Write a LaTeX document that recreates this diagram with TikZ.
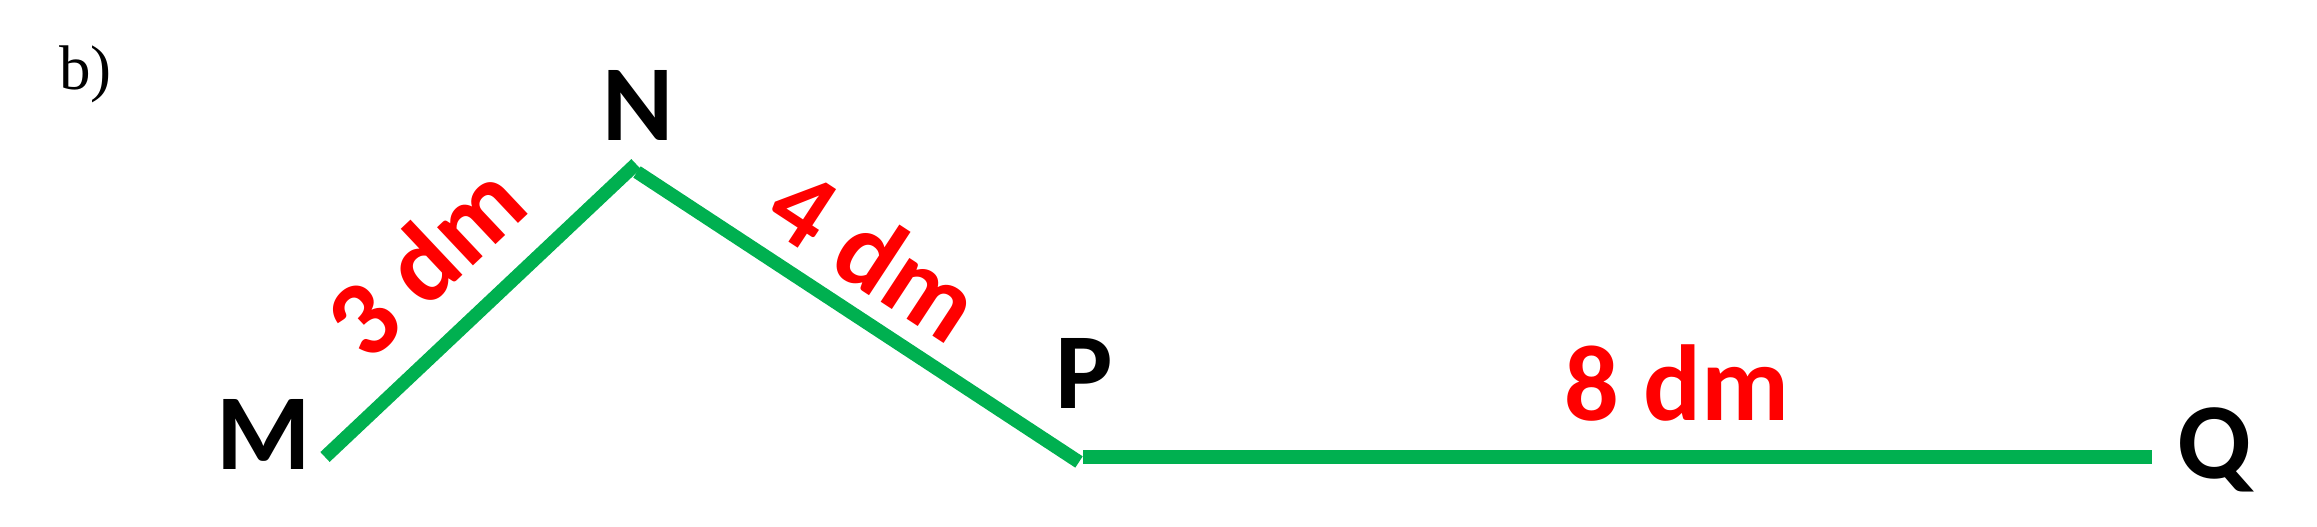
\documentclass[tikz,border=0pt]{standalone}
\usepackage{fontspec}
\setmainfont{Carlito}
\newfontfamily\serifb{Liberation Serif}
\definecolor{linegreen}{RGB}{0,176,80}
\definecolor{lblred}{RGB}{255,0,0}
\tikzset{
  seg/.style={draw=linegreen, line width=13.5pt, line cap=butt},
  vname/.style={inner sep=0pt, anchor=base, font=\fontsize{108}{120}\selectfont\bfseries, text=black},
  lenlbl/.style={inner sep=0pt, font=\fontsize{108}{120}\selectfont\bfseries, text=lblred},
}
\begin{document}
\begin{tikzpicture}[x=1pt,y=1pt]
\useasboundingbox (0,0) rectangle (2317,527);
% line end points
\coordinate (m1) at (325,70);
\coordinate (n1) at (636,363);
\coordinate (n2) at (637,355);
\coordinate (p1) at (1079,65);
\coordinate (p2) at (1083,70);
\coordinate (q1) at (2152,70);
% vertex names
\node[vname] (M) at (264,57) {M};
\node[vname] (N) at (638,386) {N};
\node[vname] (P) at (1084.5,118) {P};
\node[vname] (Q) at (2214.5,48) {Q};
\node[inner sep=0pt, anchor=base west, font=\serifb\fontsize{63}{70}\selectfont] (tag) at (59,437) {b)};
% segments
\draw[seg] (m1) -- node[lenlbl, sloped, pos=0.485, above=30pt] (l1) {3 dm} (n1);
\draw[seg] (n2) -- node[lenlbl, sloped, pos=0.462, above=17pt] (l2) {4 dm} (p1);
\draw[seg] (p2) -- (q1);
\node[lenlbl, anchor=base] (l3) at (1676.5,106) {8 dm};
\end{tikzpicture}
\end{document}
